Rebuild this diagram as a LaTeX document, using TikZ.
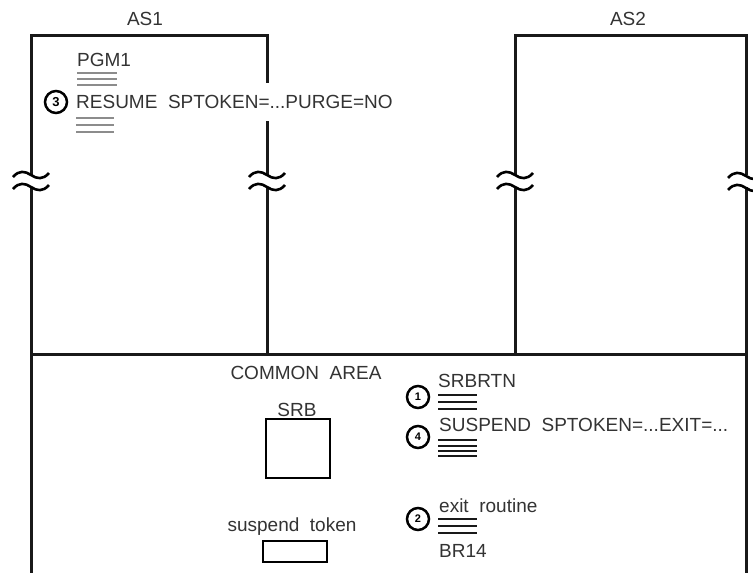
\documentclass[tikz,border=0pt]{standalone}
\usepackage{fontspec}
\setmainfont{Liberation Sans}
\begin{document}
\begin{tikzpicture}[x=1pt,y=-1pt,line join=miter,
  wall/.style={line width=3pt,black!90},
  txt/.style={inner sep=0pt,font=\fontsize{19}{19}\selectfont,text=black!80},
  num/.style={circle,draw,line width=2.5pt,minimum size=22pt,inner sep=0pt,font=\fontsize{11}{11}\selectfont\bfseries},
  boxx/.style={draw,line width=2.6pt,inner sep=0pt},
  glin/.style={line width=2.2pt,black!45},
  blin/.style={line width=2.4pt,black!90},
  brkpic/.pic={
    \draw[line width=2.6pt] (-18,-4) .. controls (-12,-11) and (-6,-10) .. (0,-6) .. controls (6,-2) and (12,-1) .. (18,-8);
    \draw[line width=2.6pt] (-18,8) .. controls (-12,1) and (-6,2) .. (0,6) .. controls (6,10) and (12,11) .. (18,4);
  }]
\useasboundingbox (0,0) rectangle (753,573);

% address space outlines
\draw[wall] (31,175) -- (31,35) -- (267,35) -- (267,83);
\draw[wall] (267,121) -- (267,175);
\draw[wall] (267,187) -- (267,354);
\draw[wall] (31,187) -- (31,573);
\draw[wall] (515,354) -- (515,187);
\draw[wall] (515,175) -- (515,35) -- (746,35) -- (746,175);
\draw[wall] (746,187) -- (746,573);
\draw[wall] (31,354) -- (746,354);

% break marks
\pic at (31,181) {brkpic};
\pic at (267,181) {brkpic};
\pic at (515,181) {brkpic};
\pic at (746,182) {brkpic};

% labels
\node[txt,anchor=base] (as1) at (145,25) {AS1};
\node[txt,anchor=base] (as2) at (628,25) {AS2};

% AS1 program
\node[txt,anchor=base west] (pgm) at (77,66) {PGM1};
\draw[glin] (77,73) -- (117,73);
\draw[glin] (77,79) -- (117,79);
\draw[glin] (77,85) -- (117,85);
\node[num,font=\fontsize{13}{13}\selectfont\bfseries] (c3) at (56,102) {3};
\node[txt,anchor=base west] (resume) at (76,108) {RESUME\ \ SPTOKEN=...PURGE=NO};
\draw[glin] (76,118) -- (114,118);
\draw[glin] (76,125) -- (114,125);
\draw[glin] (76,132) -- (114,132);

% common area
\node[txt,anchor=base] (common) at (306,379) {COMMON\ \ AREA};
\node[txt,anchor=base] (srbl) at (297,416) {SRB};
\node[boxx,minimum width=64pt,minimum height=59pt] (srb) at (298,448.5) {};
\node[txt,anchor=base] (tokl) at (292,531) {suspend\ \ token};
\node[boxx,minimum width=64pt,minimum height=21pt] (tok) at (295,551.5) {};

% SRB routine
\node[num] (c1) at (418,397) {1};
\node[txt,anchor=base west] (srbrtn) at (438,387) {SRBRTN};
\draw[blin] (438,395) -- (477,395);
\draw[blin] (438,402) -- (477,402);
\draw[blin] (438,409) -- (477,409);

\node[num] (c4) at (418,437) {4};
\node[txt,anchor=base west] (susp) at (439,431) {SUSPEND\ \ SPTOKEN=...EXIT=...};
\draw[blin] (438,440) -- (477,440);
\draw[blin] (438,446) -- (477,446);
\draw[blin] (438,451) -- (477,451);
\draw[blin] (438,456) -- (477,456);

% exit routine
\node[num] (c2) at (418,519) {2};
\node[txt,anchor=base west] (exitr) at (439,512) {exit\ \ routine};
\draw[blin] (438,519) -- (477,519);
\draw[blin] (438,526) -- (477,526);
\draw[blin] (438,533) -- (477,533);
\node[txt,anchor=base west] (br14) at (439,557) {BR14};
\end{tikzpicture}
\end{document}
